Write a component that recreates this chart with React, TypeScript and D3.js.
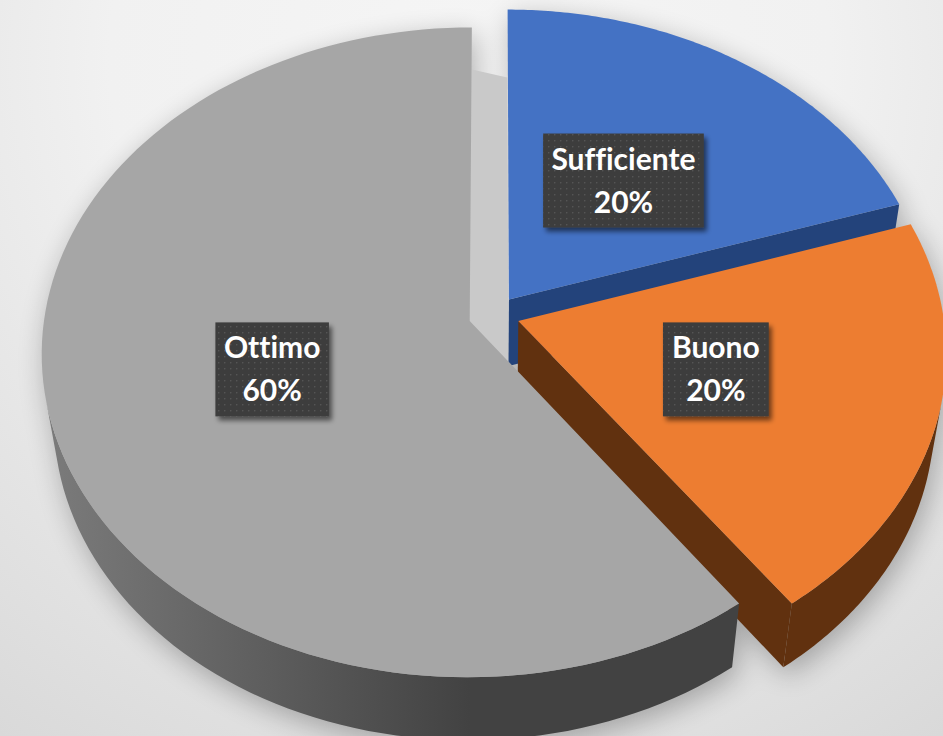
import React from "react";
import * as d3 from "d3";

// ---- data ----
const categories = ["Sufficiente", "Buono", "Ottimo"];
const values = [20, 20, 60];
const percentLabels = ["20%", "20%", "60%"];
const topColors = ["#4472C4", "#ED7D31", "#A6A6A6"];
const sideColors = ["#23437b", "#61310f", "url(#grayWall)"];

const W = 943;
const H = 736;

// projection parameters
const tilt = (49 * Math.PI) / 180;
const sinA = Math.sin(tilt);
const cosA = Math.cos(tilt);
const D = 6.8; // camera distance (in radii)
const S = 425; // px per radius
const CX = 494;
const CY = 315;
const THICK = 0.245;
const EXPLODE = 0.06;
const LABEL_R = 0.48;
const FONT = "Lato, 'Open Sans', sans-serif";
const FONT_SIZE = 30;

type P = [number, number];

function project(X: number, Y: number, Z: number): P {
  const depth = D - Y * sinA - Z * cosA;
  const k = D / depth;
  return [CX + S * X * k, CY - S * (Y * cosA - Z * sinA) * k];
}
const camera = [0, D * sinA, D * cosA];

function facing(px: number, py: number, pz: number, nx: number, nz: number) {
  return (camera[0] - px) * nx + (camera[2] - pz) * nz;
}

const lineGen = d3.line<P>();
const poly = (pts: P[]) => (lineGen(pts) || "") + "Z";

let measureCtx: CanvasRenderingContext2D | null = null;
function textWidth(t: string) {
  if (!measureCtx) {
    const c = document.createElement("canvas");
    measureCtx = c.getContext("2d");
  }
  if (!measureCtx) return t.length * FONT_SIZE * 0.5;
  measureCtx.font = `bold ${FONT_SIZE}px ${FONT}`;
  return measureCtx.measureText(t).width;
}

export default function App() {
  const arcs = d3.pie<number>().sort(null).value((d) => d)(values);
  const N = 120;

  const slices = arcs.map((a, i) => {
    const a0 = a.startAngle;
    const a1 = a.endAngle;
    const mid = (a0 + a1) / 2;
    const ox = EXPLODE * Math.sin(mid);
    const oz = -EXPLODE * Math.cos(mid);
    const rim = (t: number, y: number) => project(ox + Math.sin(t), y, oz - Math.cos(t));
    const thetas = d3.range(N + 1).map((k) => a0 + ((a1 - a0) * k) / N);
    const apexTop = project(ox, 0, oz);
    const apexBot = project(ox, -THICK, oz);
    const top = poly([apexTop, ...thetas.map((t) => rim(t, 0))]);

    // outer wall (visible part)
    const vis = thetas.filter(
      (t) => facing(ox + Math.sin(t), 0, oz - Math.cos(t), Math.sin(t), -Math.cos(t)) > 0
    );
    const wall =
      vis.length > 1
        ? poly([...vis.map((t) => rim(t, 0)), ...vis.slice().reverse().map((t) => rim(t, -THICK))])
        : null;

    // radial faces
    const faces: string[] = [];
    const f0 = facing(ox, 0, oz, -Math.cos(a0), -Math.sin(a0));
    if (f0 > 0.5) faces.push(poly([apexTop, rim(a0, 0), rim(a0, -THICK), apexBot]));
    const f1 = facing(ox, 0, oz, Math.cos(a1), Math.sin(a1));
    if (f1 > 0.5) faces.push(poly([apexTop, rim(a1, 0), rim(a1, -THICK), apexBot]));

    const lp = project(ox + LABEL_R * Math.sin(mid), 0, oz - LABEL_R * Math.cos(mid));
    return { i, a0, a1, top, wall, faces, apexTop, apexBot, rim, lp };
  });

  // gap face seen between the gray slice and the blue slice
  const blue = slices[0];
  const gray = slices[2];
  const gTop = gray.apexTop;
  const bRimBot = blue.rim(blue.a0, -THICK);
  const gRimTop = gray.rim(gray.a1, 0);
  const gap = poly([gTop, [gRimTop[0], bRimBot[1] - 8], bRimBot, blue.apexBot]);

  return (
    <svg
      width={W}
      height={H}
      style={{ position: "absolute", left: 0, top: 0, display: "block" }}
    >
      <defs>
        <radialGradient id="bg" cx={470} cy={60} r={900} gradientUnits="userSpaceOnUse">
          <stop offset="0" stopColor="#f5f5f5" />
          <stop offset="0.4" stopColor="#f1f1f1" />
          <stop offset="1" stopColor="#d5d5d5" />
        </radialGradient>
        <linearGradient id="grayWall" x1={40} x2={470} y1={0} y2={0} gradientUnits="userSpaceOnUse">
          <stop offset="0" stopColor="#7c7c7c" />
          <stop offset="1" stopColor="#424242" />
        </linearGradient>
        <filter id="pieShadow" x="-20%" y="-20%" width="140%" height="140%">
          <feGaussianBlur stdDeviation="14" />
        </filter>
        <filter id="boxShadow" x="-20%" y="-20%" width="150%" height="150%">
          <feGaussianBlur in="SourceAlpha" stdDeviation="2.5" />
          <feOffset dx="3" dy="4" result="o" />
          <feComponentTransfer>
            <feFuncA type="linear" slope="0.55" />
          </feComponentTransfer>
          <feMerge>
            <feMergeNode />
            <feMergeNode in="SourceGraphic" />
          </feMerge>
        </filter>
        <pattern id="dots" width="6" height="6" patternUnits="userSpaceOnUse">
          <rect width="6" height="6" fill="#3c3c3c" />
          <rect x="2" y="2" width="1.4" height="1.4" fill="#555555" />
        </pattern>
      </defs>
      <rect width={W} height={H} fill="url(#bg)" />

      {/* soft shadow */}
      <g filter="url(#pieShadow)" opacity={0.28} transform="translate(4,8)">
        {slices.map((s) => (
          <g key={s.i}>
            <path d={s.top} fill="#000" />
            {s.wall && <path d={s.wall} fill="#000" />}
            {s.faces.map((f, k) => (
              <path key={k} d={f} fill="#000" />
            ))}
          </g>
        ))}
      </g>

      <path d={gap} fill="#c9c9c9" />

      {slices.map((s) => (
        <g key={s.i}>
          {s.wall && <path d={s.wall} fill={sideColors[s.i]} />}
          {s.faces.map((f, k) => (
            <path key={k} d={f} fill={s.i === 2 ? "#444" : sideColors[s.i]} />
          ))}
          <path d={s.top} fill={topColors[s.i]} />
        </g>
      ))}

      {slices.map((s) => {
        const w = Math.max(textWidth(categories[s.i]), textWidth(percentLabels[s.i])) + 18;
        const h = 94;
        const [x, y] = s.lp;
        return (
          <g key={"l" + s.i}>
            <rect
              x={x - w / 2}
              y={y - h / 2}
              width={w}
              height={h}
              fill="url(#dots)"
              filter="url(#boxShadow)"
            />
            <text
              x={x}
              textAnchor="middle"
              fontFamily={FONT}
              fontWeight="bold"
              fontSize={FONT_SIZE}
              fill="#ffffff"
              style={{ fontVariantLigatures: "none", fontFeatureSettings: '"liga" 0' }}
            >
              <tspan x={x} y={y - 11}>
                {categories[s.i]}
              </tspan>
              <tspan x={x} y={y + 32}>
                {percentLabels[s.i]}
              </tspan>
            </text>
          </g>
        );
      })}
    </svg>
  );
}
